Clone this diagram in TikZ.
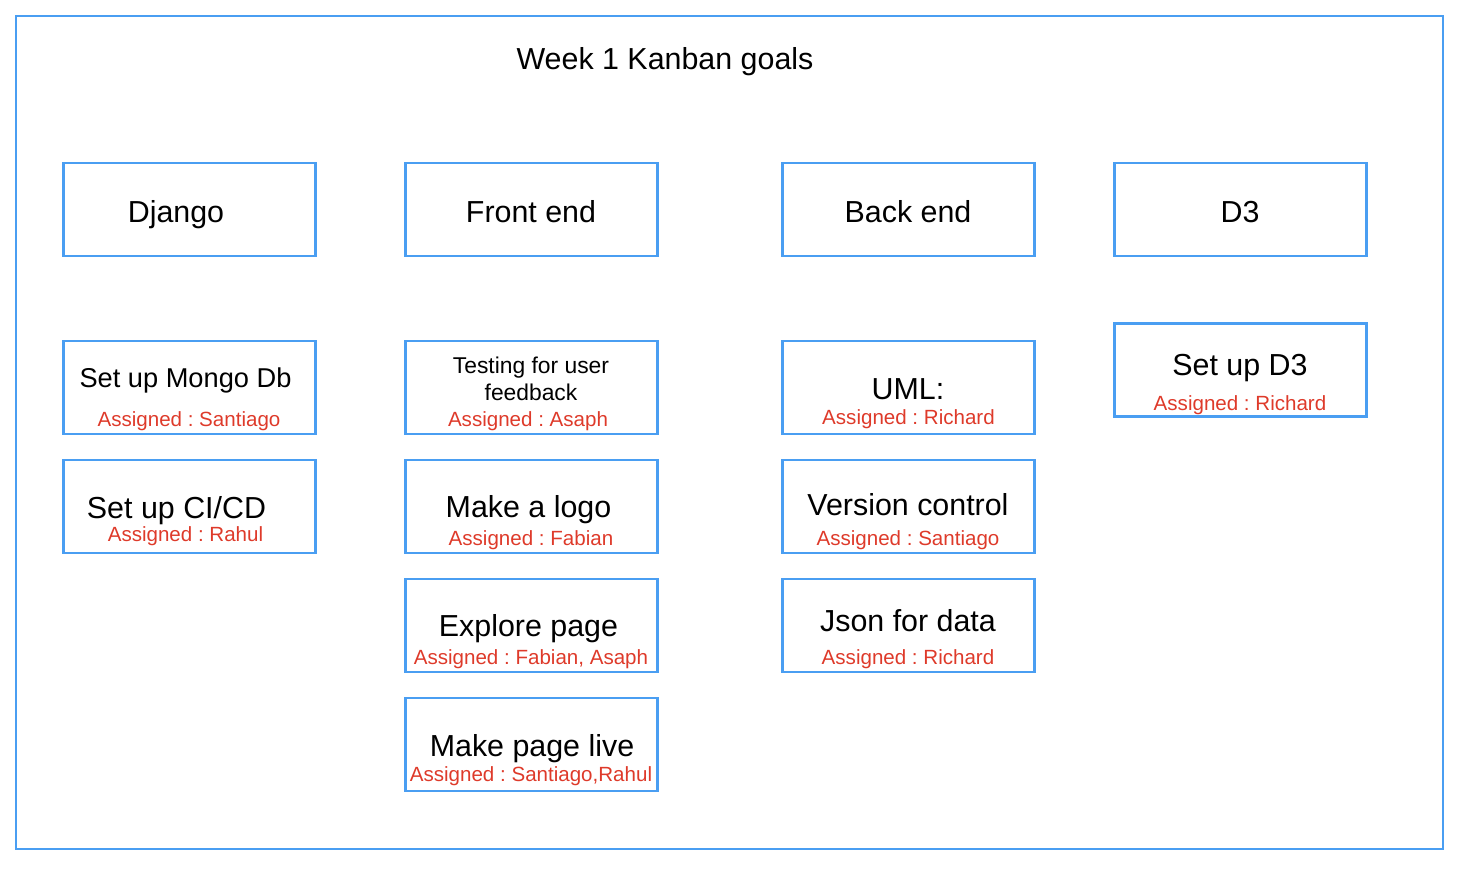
\documentclass[tikz,border=0pt]{standalone}
\usepackage{fontspec}
\setmainfont{Liberation Sans}
\frenchspacing
\usetikzlibrary{positioning}

\definecolor{kbblue}{RGB}{74,158,242}
\definecolor{kbred}{RGB}{222,58,42}

\begin{document}
\begin{tikzpicture}[
  x=0.02cm, y=-0.02cm,
  % Box Styles
  frame/.style={draw=kbblue, line width=1.3pt},
  card/.style={draw=kbblue, line width=1.6pt, rectangle, minimum width=5.05cm, minimum height=1.86cm, inner sep=0pt},
  % Text Styles
  ttl/.style={anchor=base, inner sep=0pt, font=\fontsize{17.3}{20}\selectfont},
  ttl_small/.style={anchor=base, inner sep=0pt, align=center, font=\fontsize{13}{15.3}\selectfont},
  who/.style={anchor=base, inner sep=0pt, text=kbred, font=\fontsize{11.7}{14}\selectfont}
]
\useasboundingbox (0,0) rectangle (1468,876);

% ================= FRAME =================
\draw[frame] (16,16) rectangle (1443,849);
\node[ttl] (title) at (665,69) {Week 1 Kanban goals};

% ================= COLUMN HEADERS =================
\node[card] (django)   at (189.5,209.5) {};
\node[card] (frontend) at (531.5,209.5) {};
\node[card] (backend)  at (908.5,209.5) {};
\node[card] (dthree)   at (1240.5,209.5) {};

\node[ttl] (django_t)   at (176,222)  {Django};
\node[ttl] (frontend_t) at (531,222)  {Front end};
\node[ttl] (backend_t)  at (908,222)  {Back end};
\node[ttl] (dthree_t)   at (1240,222) {D3};

% ================= DJANGO TASKS =================
\node[card] (mongo) at (189.5,387.5) {};
\node[ttl, font=\fontsize{15.5}{18}\selectfont] (mongo_t) at (185.5,387) {Set up Mongo Db};
\node[who] (mongo_a) at (189,426) {Assigned : Santiago};

\node[card] (cicd) at (189.5,506.5) {};
\node[ttl] (cicd_t) at (176.5,518) {Set up CI/CD};
\node[who] (cicd_a) at (185.5,541) {Assigned : Rahul};

% ================= FRONT END TASKS =================
\node[card] (testing) at (531.5,387.5) {};
\node[ttl_small] (testing_t) at (531,373) {Testing for user};
\node[ttl_small] (testing_u) at (531,400) {feedback};
\node[who] (testing_a) at (528,426) {Assigned : Asaph};

\node[card] (logo) at (531.5,506.5) {};
\node[ttl] (logo_t) at (528.5,517) {Make a logo};
\node[who] (logo_a) at (531,545) {Assigned : Fabian};

\node[card] (explore) at (531.5,625.5) {};
\node[ttl] (explore_t) at (528.5,636) {Explore page};
\node[who] (explore_a) at (531,664) {Assigned : Fabian, Asaph};

\node[card] (live) at (531.5,744.5) {};
\node[ttl] (live_t) at (532,756) {Make page live};
\node[who] (live_a) at (531,781) {Assigned : Santiago,Rahul};

% ================= BACK END TASKS =================
\node[card] (uml) at (908.5,387.5) {};
\node[ttl] (uml_t) at (908,399) {UML:};
\node[who] (uml_a) at (908.5,424) {Assigned : Richard};

\node[card] (vcs) at (908.5,506.5) {};
\node[ttl] (vcs_t) at (908,515) {Version control};
\node[who] (vcs_a) at (908,545) {Assigned : Santiago};

\node[card] (json) at (908.5,625.5) {};
\node[ttl] (json_t) at (908,631) {Json for data};
\node[who] (json_a) at (908,664) {Assigned : Richard};

% ================= D3 TASKS =================
\node[card] (setdthree) at (1240.5,370) {};
\node[ttl] (setdthree_t) at (1240,375) {Set up D3};
\node[who] (setdthree_a) at (1240,410) {Assigned : Richard};

\end{tikzpicture}
\end{document}
